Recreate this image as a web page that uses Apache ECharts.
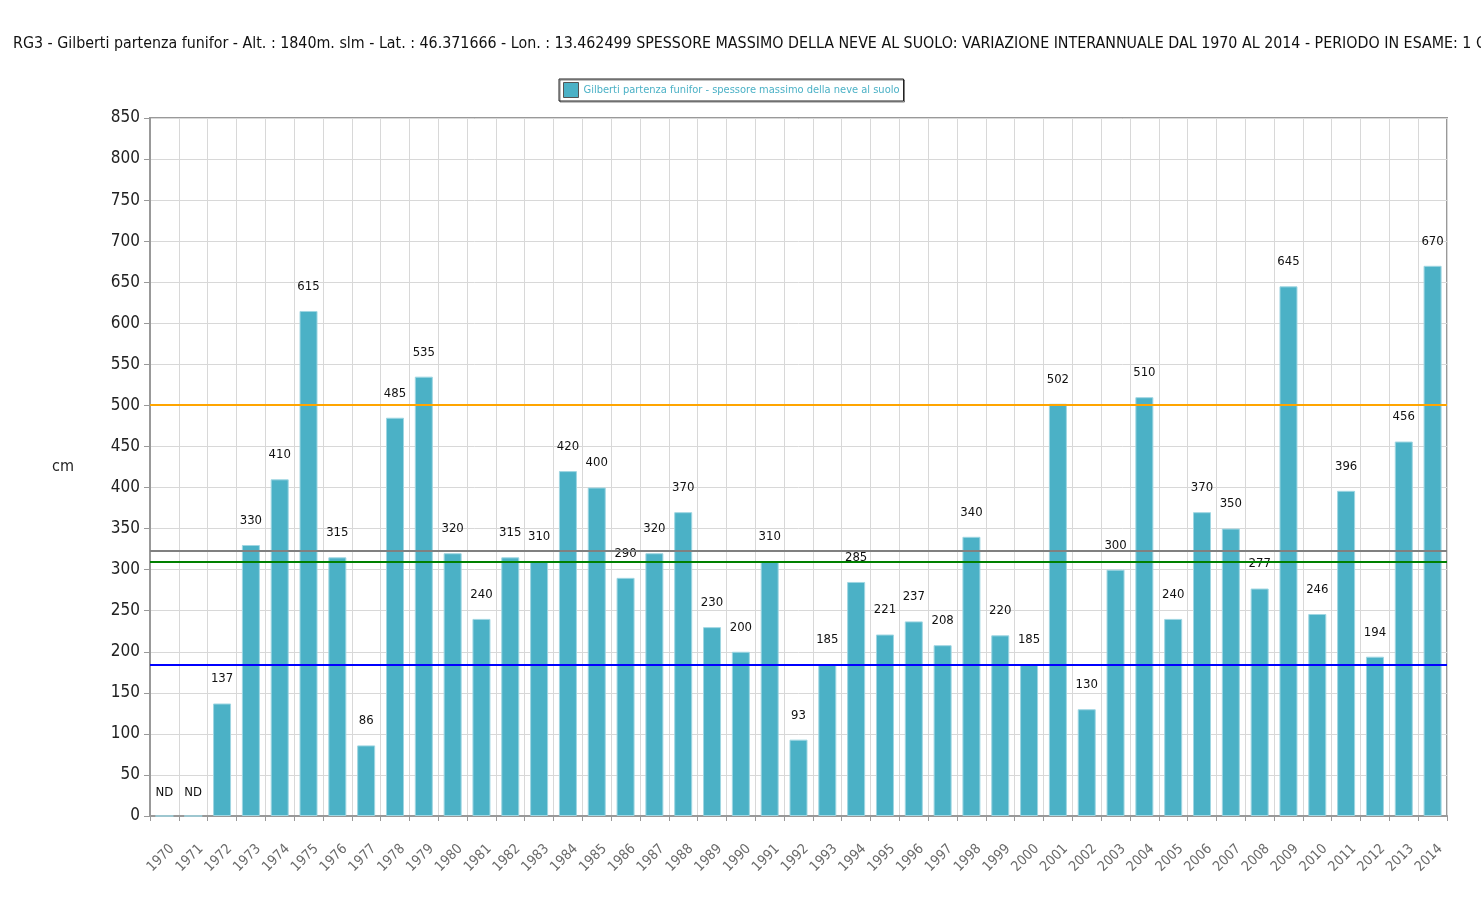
<!DOCTYPE html>
<html>
<head>
    <meta charset="UTF-8">
    <title>Gilberti partenza funifor - spessore massimo neve</title>
</head>
<body style="margin: 0;overflow: hidden;background: #fff;width: 100%;height:100%">
<div id="chart" style="width: 1481px;height:906px"></div>

<script type="text/javascript" src="https://cdn.jsdelivr.net/npm/echarts@6/dist/echarts.min.js"></script>
<script type="text/javascript">
    // anni e spessore massimo (cm); null = ND
    var years = ['1970', '1971', '1972', '1973', '1974', '1975', '1976', '1977', '1978', '1979',
        '1980', '1981', '1982', '1983', '1984', '1985', '1986', '1987', '1988', '1989',
        '1990', '1991', '1992', '1993', '1994', '1995', '1996', '1997', '1998', '1999',
        '2000', '2001', '2002', '2003', '2004', '2005', '2006', '2007', '2008', '2009',
        '2010', '2011', '2012', '2013', '2014'];
    var snow = [null, null, 137, 330, 410, 615, 315, 86, 485, 535,
        320, 240, 315, 310, 420, 400, 290, 320, 370, 230,
        200, 310, 93, 185, 285, 221, 237, 208, 340, 220,
        185, 502, 130, 300, 510, 240, 370, 350, 277, 645,
        246, 396, 194, 456, 670];
    // linee di riferimento
    var refValues = [501, 323, 310, 184];
    var refColors = ['#ffa500', '#808080', '#008000', '#0000ff'];
    var yTicks = [0, 850, 50];

    var barData = snow.map(function (v) {
        if (v === null) {
            return {value: 0, label: {formatter: 'ND', distance: 16}};
        }
        return v;
    });

    var chart = echarts.init(document.getElementById('chart'));
    var option = {
        backgroundColor: '#fff',
        animation: false,
        title: {
            text: 'RG3 - Gilberti partenza funifor - Alt. : 1840m. slm - Lat. : 46.371666 - Lon. : 13.462499 SPESSORE MASSIMO DELLA NEVE AL SUOLO: VARIAZIONE INTERANNUALE DAL 1970 AL 2014 - PERIODO IN ESAME: 1 OTTOBRE - 31 MAGGIO',
            left: 8,
            top: 31,
            textStyle: {
                fontFamily: 'DejaVu Sans Condensed',
                fontSize: 15.85,
                fontWeight: 'normal',
                color: '#111'
            }
        },
        legend: {
            data: ['Gilberti partenza funifor - spessore massimo della neve al suolo'],
            left: 559,
            top: 79,
            icon: 'rect',
            itemWidth: 15,
            itemHeight: 15,
            itemGap: 4,
            padding: [3, 4, 3, 4],
            borderColor: '#222',
            borderWidth: 1,
            shadowColor: 'rgba(0,0,0,0.5)',
            shadowOffsetX: 1,
            shadowOffsetY: 1,
            textStyle: {
                fontFamily: 'DejaVu Sans Condensed',
                fontSize: 11,
                color: '#4bb1c6'
            },
            itemStyle: {borderColor: '#555', borderWidth: 1}
        },
        grid: {
            left: 150,
            right: 34,
            top: 118,
            bottom: 90,
            show: true,
            borderColor: '#999',
            borderWidth: 2
        },
        xAxis: {
            type: 'category',
            data: years,
            boundaryGap: true,
            axisLine: {lineStyle: {color: '#999', width: 2}},
            axisTick: {show: true, length: 5, lineStyle: {color: '#999'}},
            splitLine: {show: true, lineStyle: {color: '#d8d8d8', width: 1}},
            axisLabel: {
                rotate: 45,
                interval: 0,
                margin: 23,
                verticalAlign: 'top',
                padding: [4, 0, 0, 0],
                fontFamily: 'DejaVu Sans Condensed',
                fontSize: 14,
                color: '#6a6a6a'
            }
        },
        yAxis: {
            type: 'value',
            min: yTicks[0],
            max: yTicks[1],
            interval: yTicks[2],
            name: 'cm',
            nameLocation: 'middle',
            nameRotate: 0,
            nameGap: 76,
            nameTextStyle: {fontFamily: 'DejaVu Sans Condensed', fontSize: 16, color: '#222'},
            axisLine: {show: true, lineStyle: {color: '#999', width: 2}},
            axisTick: {show: true, length: 6, lineStyle: {color: '#999'}},
            splitLine: {show: true, lineStyle: {color: '#d8d8d8', width: 1}},
            axisLabel: {
                margin: 10,
                fontFamily: 'DejaVu Sans Condensed',
                fontSize: 17,
                color: '#222'
            }
        },
        series: [{
            name: 'Gilberti partenza funifor - spessore massimo della neve al suolo',
            type: 'bar',
            data: barData,
            barWidth: 18,
            itemStyle: {color: '#4bb1c6', borderColor: '#9fd6e2', borderWidth: 1},
            label: {
                show: true,
                position: 'top',
                distance: 18,
                fontFamily: 'DejaVu Sans Condensed',
                fontSize: 13,
                color: '#111'
            },
            markLine: {
                silent: true,
                symbol: 'none',
                label: {show: false},
                data: refValues.map(function (v, i) {
                    return {yAxis: v, lineStyle: {color: refColors[i], width: 2, type: 'solid'}};
                })
            },
            z: 3
        }]
    };
    chart.setOption(option);
</script>
</body>
</html>
